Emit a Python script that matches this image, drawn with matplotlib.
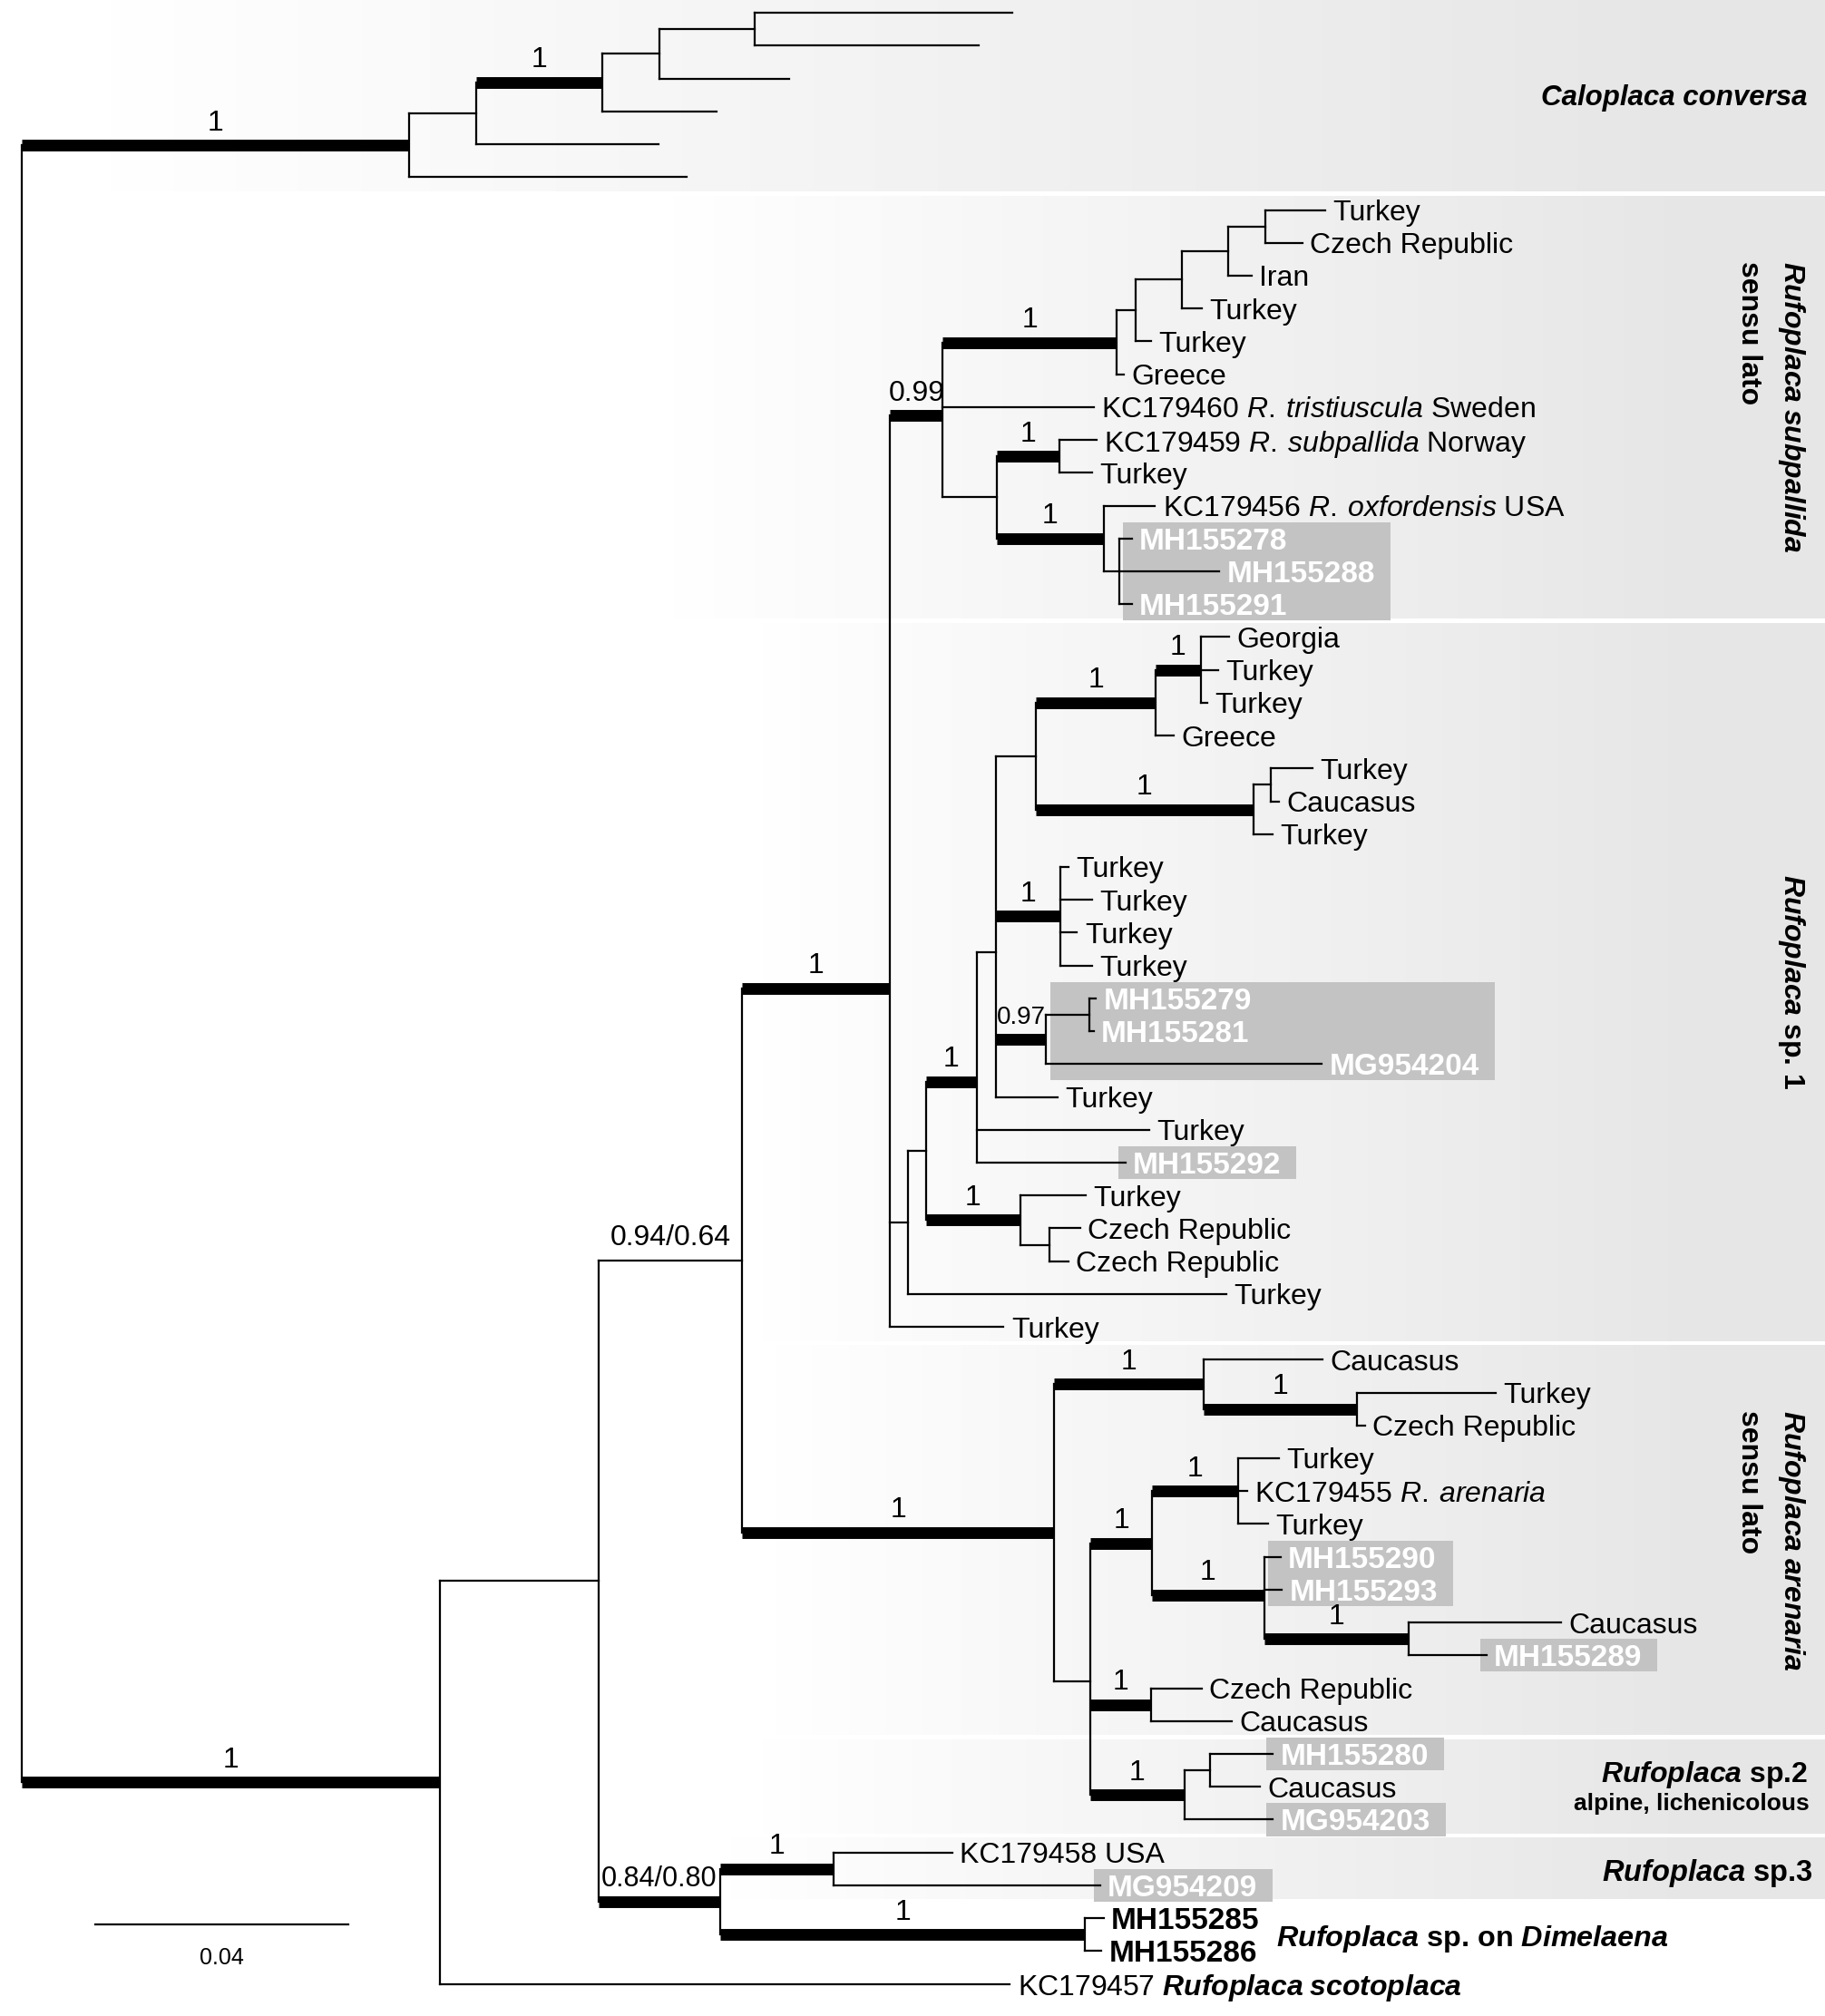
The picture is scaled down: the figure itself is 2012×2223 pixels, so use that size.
import re
import numpy as np
import matplotlib.pyplot as plt
from matplotlib.colors import LinearSegmentedColormap
from matplotlib.patches import Rectangle

plt.rcParams['font.family'] = ['Liberation Sans', 'DejaVu Sans']
plt.rcParams['mathtext.fontset'] = 'custom'
plt.rcParams['mathtext.rm'] = 'Liberation Sans'
plt.rcParams['mathtext.it'] = 'Liberation Sans:italic'
plt.rcParams['mathtext.bf'] = 'Liberation Sans:bold'
plt.rcParams['mathtext.bfit'] = 'Liberation Sans:italic:bold'

# === Dados: árvore em Newick, por clado (comprimentos em subst./sítio)
# rótulo interno "1*" = suporte 1, ramo grosso
CALOPLACA = ("(((((:0.0406,:0.0353):0.0150,:0.0205):0.0091,:0.0181)1*:0.0199,"
             ":0.0288):0.0106,:0.0439)1*:0.0611")

SUBPALLIDA = ("((((((Turkey:0.0095,'Czech Republic':0.0059):0.0059,Iran:0.0037):0.0073,"
              "Turkey:0.0032):0.0073,Turkey:0.0024):0.0030,Greece:0.0012)1*:0.0274,"
              "'KC179460 _R. tristiuscula_ Sweden':0.0238,"
              "(('KC179459 _R. subpallida_ Norway':0.0059,Turkey:0.0051)1*:0.0099,"
              "('KC179456 _R. oxfordensis_ USA':0.0081,"
              "(MH155278:0.0020,MH155288:0.0158,MH155291:0.0020):0.0024)1*:0.0169):0.0085)0.99*:0.0083")

SP1_A = ("(((Georgia:0.0045,Turkey:0.0028,Turkey:0.0010)1*:0.0071,Greece:0.0028)1*:0.0189,"
         "((Turkey:0.0065,Caucasus:0.0012):0.0028,Turkey:0.0030)1*:0.0343):0.0063")
SP1_B = "(Turkey:0.0012,Turkey:0.0049,Turkey:0.0026,Turkey:0.0049)1*:0.0102"
SP1_C = "((MH155279:0.0010,MH155281:0.0006):0.0069,MG954204:0.0435)0.97*:0.0079"
SP1_D = "(Turkey:0.0102,('Czech Republic':0.0049,'Czech Republic':0.0030):0.0045)1*:0.0150"
SP1 = ("((((" + SP1_A + "," + SP1_B + "," + SP1_C + ",Turkey:0.0097):0.0030,"
       "Turkey:0.0272,MH155292:0.0234)1*:0.0081," + SP1_D + "):0.0028,Turkey:0.0502):0.0028")

ARENARIA_A = "(Caucasus:0.0187,(Turkey:0.0219,'Czech Republic':0.0012)1*:0.0242)1*:0.0236"
ARENARIA_B = ("((Turkey:0.0065,'KC179455 _R. arenaria_':0.0014,Turkey:0.0047)1*:0.0136,"
              "(MH155290:0.0026,MH155293:0.0028,(Caucasus:0.0240,MH155289:0.0122)1*:0.0229)1*:0.0177)1*:0.0097")
ARENARIA_C = "('Czech Republic':0.0081,Caucasus:0.0128)1*:0.0095"
SP2 = "((MH155280:0.0099,Caucasus:0.0079):0.0041,MG954203:0.0140)1*:0.0148"
SP3 = "('KC179458 USA':0.0187,MG954209:0.0420)1*:0.0179"
DIMELAENA = "(MH155285:0.0030,MH155286:0.0026)1*:0.0575"
SCOTOPLACA = "'KC179457 ^Rufoplaca scotoplaca^':0.0900"

TREE = ("(" + CALOPLACA + ",((((" + SUBPALLIDA + "," + SP1 + ",Turkey:0.0179)1*:0.0234,"
        "(" + ARENARIA_A + ",(" + ARENARIA_B + "," + ARENARIA_C + "," + SP2 + "):0.0057)1*:0.0493"
        ")0.94/0.64:0.0227,(" + SP3 + "," + DIMELAENA + ")0.84/0.80*:0.0193):0.0250,"
        + SCOTOPLACA + ")1*:0.0660);")

BOXED = [["MH155278", "MH155288", "MH155291"], ["MH155279", "MH155281", "MG954204"],
         ["MH155292"], ["MH155290", "MH155293"], ["MH155289"], ["MH155280"],
         ["MG954203"], ["MG954209"]]
BOLD_TIPS = ["MH155285", "MH155286"]
SMALL_SUPPORT = {"0.84/0.80": 22, "0.97": 20}

# faixas de fundo: (primeira linha, última linha, início do degradê em px)
PANELS = [(0, 5, 80), (6, 18, 520), (19, 40, 590), (41, 52, 600), (53, 55, 590), (56, 57, 565)]
SCALE_LEN = 0.04


def parse(s):
    i = 0

    def skip():
        nonlocal i
        while i < len(s) and s[i] in ' \n\t':
            i += 1

    def node():
        nonlocal i
        skip()
        kids = []
        if s[i] == '(':
            i += 1
            while True:
                kids.append(node())
                skip()
                c = s[i]
                i += 1
                if c == ')':
                    break
        skip()
        if s[i] == "'":
            j = s.index("'", i + 1)
            name = s[i + 1:j]
            i = j + 1
        else:
            name = re.match(r"[^:,();]*", s[i:]).group(0)
            i += len(name)
        bl = 0.0
        if i < len(s) and s[i] == ':':
            m = re.match(r":([-0-9.eE]+)", s[i:])
            bl = float(m.group(1))
            i += len(m.group(0))
        return {'kids': kids, 'name': name.strip(), 'bl': bl}
    return node()


def fmt(name):
    name = re.sub(r"_(.+?)_", lambda m: r"$\mathit{" + m.group(1).replace(' ', r'\:') + "}$", name)
    name = re.sub(r"\^(.+?)\^", lambda m: r"$\mathbfit{" + m.group(1).replace(' ', r'\;') + "}$", name)
    return name


root = parse(TREE)
leaves = []


def layout(n, x0, parent):
    n['x'] = x0 + n['bl']
    n['parent'] = parent
    if n['kids']:
        for k in n['kids']:
            layout(k, n['x'], n)
        n['y'] = np.mean([k['y'] for k in n['kids']])
    else:
        n['y'] = len(leaves)
        leaves.append(n)


layout(root, 0.0, None)

# conversão de px (imagem 1419x1568) para coordenadas da árvore
def px(p):
    return (p - 17) * SCALE_LEN / 197


def row(p):
    return (p - 10) / 25.55


THIN = 1.6
THICK = 9.3

fig = plt.figure(figsize=(20.12, 22.23), dpi=100)
ax = fig.add_axes([0, 0, 1, 1])
ax.axis('off')

cmap = LinearSegmentedColormap.from_list('bg', ['#ffffff', '#e6e6e6'])
xs = np.linspace(px(0), px(1419), 600)
for r0, r1, left in PANELS:
    t = np.clip((xs - px(left)) / (px(1330) - px(left)), 0, 1)
    t[xs < px(left)] = np.nan
    ax.imshow(t[np.newaxis, :], extent=(px(0), px(1419), r1 + 0.5 - 0.07, r0 - 0.5 + 0.07),
              aspect='auto', cmap=cmap, vmin=0, vmax=1, zorder=0, interpolation='bilinear')

boxed_names = {nm for g in BOXED for nm in g}
tip_text = {}


def draw(n):
    if n['parent'] is not None:
        thick = bool(n['kids']) and n['name'].endswith('*')
        x0 = n['parent']['x']
        ax.plot([x0, n['x']], [n['y'], n['y']], color='black', lw=THICK if thick else THIN,
                solid_capstyle='butt' if thick else 'projecting', zorder=3)
        sup = n['name'].rstrip('*') if n['kids'] else ''
        if sup:
            ax.annotate(sup, ((x0 + n['x']) / 2, n['y']), xytext=(0, 12), textcoords='offset points',
                        ha='center', va='baseline', fontsize=SMALL_SUPPORT.get(sup, 23), zorder=4)
    if n['kids']:
        ys = [k['y'] for k in n['kids']]
        ax.plot([n['x'], n['x']], [min(ys), max(ys)], color='black', lw=THIN,
                solid_capstyle='projecting', zorder=3)
        for k in n['kids']:
            draw(k)
    elif n['name']:
        nm = n['name']
        if nm in boxed_names:
            kw = dict(color='white', fontweight='bold', fontsize=24)
        elif nm in BOLD_TIPS:
            kw = dict(color='black', fontweight='bold', fontsize=24)
        else:
            kw = dict(color='black', fontsize=23)
        tip_text[nm] = ax.annotate(fmt(nm), (n['x'], n['y']), xytext=(6, 0), textcoords='offset points',
                                   ha='left', va='center_baseline', zorder=4, **kw)


draw(root)

# rótulos dos clados
ax.text(px(1405), 2.5, 'Caloplaca conversa', ha='right', va='center_baseline',
        fontsize=22.5, fontweight='bold', fontstyle='italic')
rot_main = []
for (r0, r1), label in [((6, 18), r'$\mathbfit{Rufoplaca\;subpallida}$'),
                        ((19, 40), r'$\mathbfit{Rufoplaca}$ sp. 1'),
                        ((41, 52), r'$\mathbfit{Rufoplaca\;arenaria}$')]:
    rot_main.append(ax.text(px(1393), (r0 + r1) / 2, label, rotation=-90, ha='center', va='center',
                            fontsize=23, fontweight='bold'))
ax.text(px(1406), 53.5, r'$\mathbfit{Rufoplaca}$ sp.2', ha='right', va='center_baseline',
        fontsize=23, fontweight='bold')
ax.text(px(1407), 54.45, 'alpine, lichenicolous', ha='right', va='center_baseline',
        fontsize=19, fontweight='bold')
ax.text(px(1410), 56.5, r'$\mathbfit{Rufoplaca}$ sp.3', ha='right', va='center_baseline',
        fontsize=23.5, fontweight='bold')
ax.text(px(992), 58.5, r'$\mathbfit{Rufoplaca}$ sp. on $\mathbfit{Dimelaena}$', ha='left',
        va='center_baseline', fontsize=23.3, fontweight='bold')

# barra de escala
ax.plot([px(74), px(74) + SCALE_LEN], [row(1497)] * 2, color='black', lw=THIN)
ax.text(px(74) + SCALE_LEN / 2, row(1523), '0.04', ha='center', va='center', fontsize=18)

ax.set_xlim(px(0), px(1419))
ax.set_ylim(row(1568), row(0))

fig.canvas.draw()
rend = fig.canvas.get_renderer()
inv = ax.transData.inverted()

for t in rot_main[::2]:
    bb = t.get_window_extent(rend)
    ytop = inv.transform((bb.x0, bb.y1))[1]
    ax.text(px(1360), ytop, 'sensu lato', rotation=-90, ha='center', va='top',
            fontsize=23, fontweight='bold')

leaf_by_name = {l['name']: l for l in leaves if l['name']}
for g in BOXED:
    ls = [leaf_by_name[nm] for nm in g]
    right = max(inv.transform((tip_text[nm].get_window_extent(rend).x1, 0))[0] for nm in g)
    if len(g) > 1:
        left = min(l['parent']['x'] for l in ls) + px(20) - px(17)
    else:
        left = ls[0]['x'] - (px(22) - px(17))
    y0 = min(l['y'] for l in ls) - 0.5
    y1 = max(l['y'] for l in ls) + 0.5
    ax.add_patch(Rectangle((left, y0), right + px(29) - px(17) - left, y1 - y0,
                           facecolor='#c3c3c3', edgecolor='none', zorder=1))

fig.savefig('out.png', dpi=100)
